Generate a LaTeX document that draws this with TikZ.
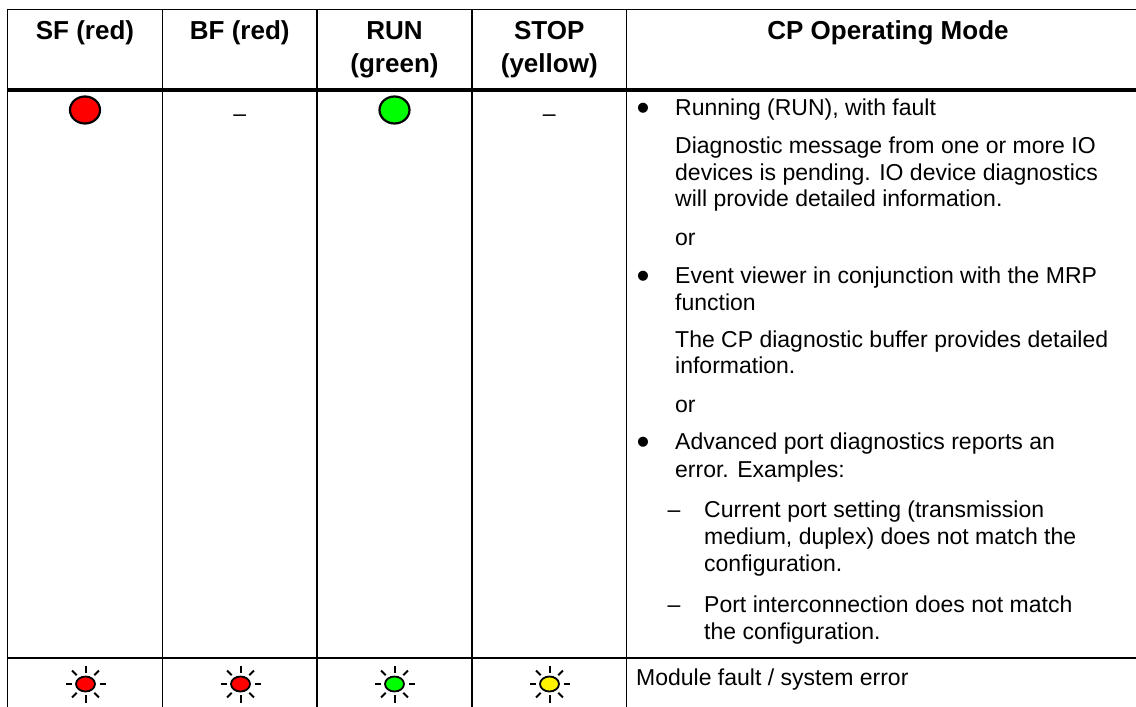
\documentclass[tikz,border=0pt]{standalone}
\usepackage{fontspec}
\setmainfont{Liberation Sans}
\usetikzlibrary{shapes.geometric}
\begin{document}
\begin{tikzpicture}[x=1pt,y=-1pt,
  thinrule/.style={line width=1.1pt, black},
  heavyrule/.style={line width=3.2pt, black},
  hdr/.style={font=\fontsize{26}{30}\selectfont\bfseries, anchor=base, inner sep=0pt},
  body/.style={font=\fontsize{23}{27}\selectfont, anchor=base west, inner sep=0pt},
  dashtxt/.style={font=\fontsize{23}{27}\selectfont, anchor=base, inner sep=0pt},
  bullettxt/.style={font=\fontsize{37}{40}\selectfont, anchor=base, inner sep=0pt},
  ledon/.style={ellipse, draw=black, line width=2.2pt, minimum width=30pt, minimum height=27pt, inner sep=0pt},
  ledblink/.style={ellipse, draw=black, line width=1.8pt, minimum width=19pt, minimum height=15pt, inner sep=0pt},
  ray/.style={line width=2pt, black}
]
\useasboundingbox (0,0) rectangle (1136,707);
\fill[white] (0,0) rectangle (1136,707);

% grid
\draw[thinrule] (7.5,9.5) -- (1136,9.5);
\draw[heavyrule] (7.5,90) -- (1136,90);
\draw[thinrule] (7.5,658) -- (1136,658);
\foreach \x in {7.5,162.5,317,472,626.5}
  \draw[thinrule] (\x,9) -- (\x,707);

% header
\node[hdr] (h1) at (85,39.5) {SF (red)};
\node[hdr] (h2) at (239.75,39.5) {BF (red)};
\node[hdr] (h3a) at (394.5,39.5) {RUN};
\node[hdr] (h3b) at (394.5,72) {(green)};
\node[hdr] (h4a) at (549.25,39.5) {STOP};
\node[hdr] (h4b) at (549.25,72) {(yellow)};
\node[hdr] (h5) at (888,39.5) {CP Operating Mode};

% row 1 LEDs
\node[ledon, fill=red] (sf1) at (85,110) {};
\node[dashtxt] (bf1) at (239.75,121) {–};
\node[ledon, fill=green] (run1) at (394.5,110) {};
\node[dashtxt] (stop1) at (549.25,121) {–};

% row 1 text
\node[bullettxt] (b1) at (643,120) {•};
\node[body] (t1) at (675,115) {Running (RUN), with fault};
\node[body] (t2) at (675,153) {Diagnostic message from one or more IO};
\node[body] (t3) at (675,180) {devices is pending. IO device diagnostics};
\node[body] (t4) at (675,206) {will provide detailed information.};
\node[body] (t5) at (675,245) {or};
\node[bullettxt] (b2) at (643,288) {•};
\node[body] (t6) at (675,283) {Event viewer in conjunction with the MRP};
\node[body] (t7) at (675,310) {function};
\node[body] (t8) at (675,347) {The CP diagnostic buffer provides detailed};
\node[body] (t9) at (675,373) {information.};
\node[body] (t10) at (675,412) {or};
\node[bullettxt] (b3) at (643,454) {•};
\node[body] (t11) at (675,449) {Advanced port diagnostics reports an};
\node[body] (t12) at (675,477) {error. Examples:};
\node[dashtxt] (d1) at (674,517) {–};
\node[body] (t13) at (704,517) {Current port setting (transmission};
\node[body] (t14) at (704,544) {medium, duplex) does not match the};
\node[body] (t15) at (704,571) {configuration.};
\node[dashtxt] (d2) at (674,612) {–};
\node[body] (t16) at (704,612) {Port interconnection does not match};
\node[body] (t17) at (704,639) {the configuration.};

% row 2 blinking LEDs
\node[ledblink, fill=red] (sf2) at (85.5,684) {};
\node[ledblink, fill=red] (bf2) at (240.5,684) {};
\node[ledblink, fill=green] (run2) at (394.5,684) {};
\node[ledblink, fill=yellow] (stop2) at (549.5,684) {};
\foreach \n in {sf2,bf2,run2,stop2}{
  \foreach \a/\ri/\ro in {0/14/20,45/12.5/19,90/11/18.5,135/12.5/19,180/14/20,225/12.5/19,270/11/18.5,315/12.5/19}
    \draw[ray] ([shift={(\a:\ri)}]\n.center) -- ([shift={(\a:\ro)}]\n.center);
}
\node[body] (t18) at (636,685) {Module fault / system error};
\end{tikzpicture}
\end{document}
